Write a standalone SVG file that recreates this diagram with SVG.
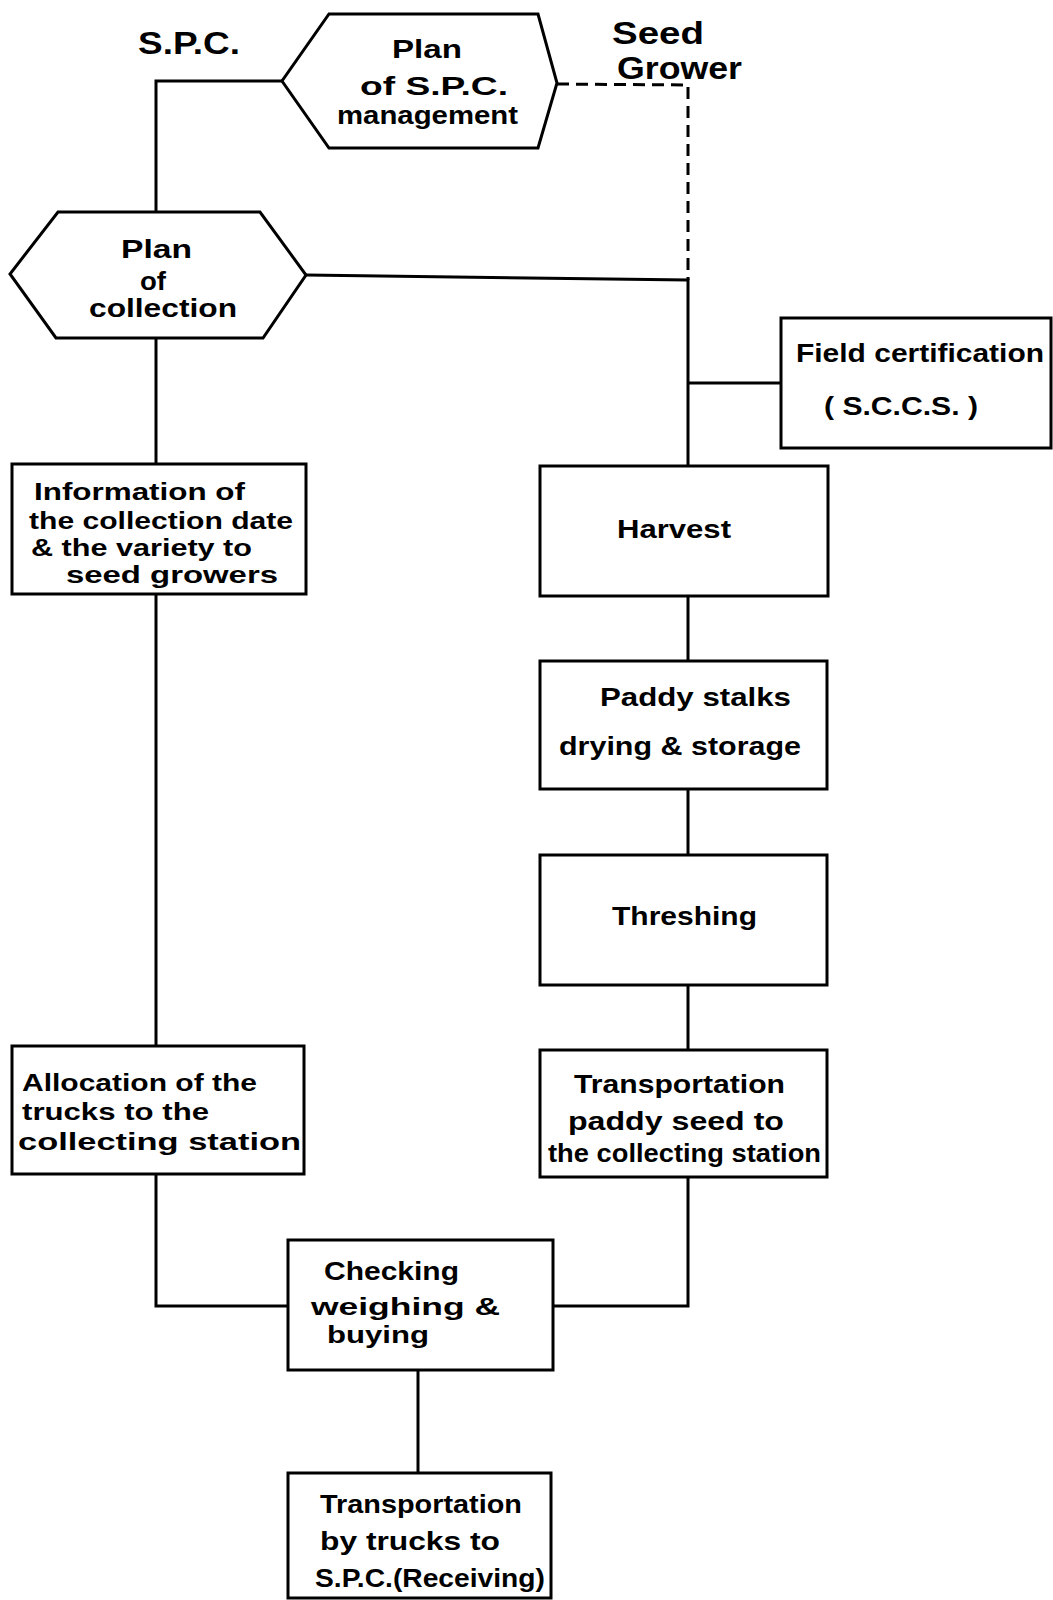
<svg xmlns="http://www.w3.org/2000/svg" width="1053" height="1600" viewBox="0 0 1053 1600">
<style>
.n{fill:#fff;stroke:#000;stroke-width:3;stroke-linejoin:miter}
.c{fill:none;stroke:#000;stroke-width:3}
.d{fill:none;stroke:#000;stroke-width:3;stroke-dasharray:12 7}
text{font-family:"Liberation Sans",Arial,sans-serif;font-weight:bold;font-size:26px;fill:#000}
.h{font-size:31px}
.s{font-size:23px}
</style>
<rect width="1053" height="1600" fill="#fff"/>
<g id="connectors">
<polyline class="c" points="282,81 156,81 156,212"/>
<polyline class="d" points="557,84 688,85 688,280"/>
<polyline class="c" points="306,275 688,280 688,466"/>
<line class="c" x1="688" y1="383" x2="781" y2="383"/>
<line class="c" x1="156" y1="338" x2="156" y2="464"/>
<line class="c" x1="156" y1="594" x2="156" y2="1046"/>
<line class="c" x1="688" y1="596" x2="688" y2="661"/>
<line class="c" x1="688" y1="789" x2="688" y2="855"/>
<line class="c" x1="688" y1="985" x2="688" y2="1050"/>
<polyline class="c" points="156,1174 156,1306 288,1306"/>
<polyline class="c" points="688,1177 688,1306 553,1306"/>
<line class="c" x1="418" y1="1370" x2="418" y2="1473"/>
</g>
<g id="label-spc"><text class="h" x="138" y="54" textLength="102" lengthAdjust="spacingAndGlyphs">S.P.C.</text></g>
<g id="label-seed-grower">
<text class="h" x="612" y="44" textLength="92" lengthAdjust="spacingAndGlyphs">Seed</text>
<text class="h" x="617" y="79" textLength="125" lengthAdjust="spacingAndGlyphs">Grower</text>
</g>
<g id="plan-spc-management">
<polygon class="n" points="329,14 538,14 557,83 538,148 329,148 282,81"/>
<text x="392" y="58" textLength="70" lengthAdjust="spacingAndGlyphs">Plan</text>
<text x="360" y="95" textLength="148" lengthAdjust="spacingAndGlyphs">of S.P.C.</text>
<text x="337" y="124" textLength="181" lengthAdjust="spacingAndGlyphs">management</text>
</g>
<g id="plan-collection">
<polygon class="n" points="58,212 260,212 306,275 263,338 56,338 10,274"/>
<text x="121" y="258" textLength="71" lengthAdjust="spacingAndGlyphs">Plan</text>
<text x="140" y="290" textLength="26" lengthAdjust="spacingAndGlyphs">of</text>
<text x="89" y="317" textLength="148" lengthAdjust="spacingAndGlyphs">collection</text>
</g>
<g id="field-certification">
<rect class="n" x="781" y="318" width="270" height="130"/>
<text x="796" y="362" textLength="248" lengthAdjust="spacingAndGlyphs">Field certification</text>
<text x="824" y="415" textLength="154" lengthAdjust="spacingAndGlyphs">( S.C.C.S. )</text>
</g>
<g id="information">
<rect class="n" x="12" y="464" width="294" height="130"/>
<text class="s" x="34" y="500" textLength="211" lengthAdjust="spacingAndGlyphs">Information of</text>
<text class="s" x="29" y="529" textLength="264" lengthAdjust="spacingAndGlyphs">the collection date</text>
<text class="s" x="31" y="556" textLength="221" lengthAdjust="spacingAndGlyphs">&amp; the variety to</text>
<text class="s" x="66" y="583" textLength="212" lengthAdjust="spacingAndGlyphs">seed growers</text>
</g>
<g id="harvest">
<rect class="n" x="540" y="466" width="288" height="130"/>
<text x="617" y="538" textLength="114" lengthAdjust="spacingAndGlyphs">Harvest</text>
</g>
<g id="paddy-stalks">
<rect class="n" x="540" y="661" width="287" height="128"/>
<text x="600" y="706" textLength="191" lengthAdjust="spacingAndGlyphs">Paddy stalks</text>
<text x="559" y="755" textLength="242" lengthAdjust="spacingAndGlyphs">drying &amp; storage</text>
</g>
<g id="threshing">
<rect class="n" x="540" y="855" width="287" height="130"/>
<text x="612" y="925" textLength="145" lengthAdjust="spacingAndGlyphs">Threshing</text>
</g>
<g id="transportation-paddy">
<rect class="n" x="540" y="1050" width="287" height="127"/>
<text x="574" y="1093" textLength="211" lengthAdjust="spacingAndGlyphs">Transportation</text>
<text x="568" y="1130" textLength="216" lengthAdjust="spacingAndGlyphs">paddy seed to</text>
<text x="548" y="1162" textLength="273" lengthAdjust="spacingAndGlyphs">the collecting station</text>
</g>
<g id="allocation">
<rect class="n" x="12" y="1046" width="292" height="128"/>
<text class="s" x="22" y="1091" textLength="235" lengthAdjust="spacingAndGlyphs">Allocation of the</text>
<text class="s" x="22" y="1120" textLength="187" lengthAdjust="spacingAndGlyphs">trucks to the</text>
<text class="s" x="18" y="1150" textLength="283" lengthAdjust="spacingAndGlyphs">collecting station</text>
</g>
<g id="checking">
<rect class="n" x="288" y="1240" width="265" height="130"/>
<text x="324" y="1280" textLength="135" lengthAdjust="spacingAndGlyphs">Checking</text>
<text class="s" x="311" y="1315" textLength="189" lengthAdjust="spacingAndGlyphs">weighing  &amp;</text>
<text class="s" x="327" y="1343" textLength="102" lengthAdjust="spacingAndGlyphs">buying</text>
</g>
<g id="transportation-trucks">
<rect class="n" x="288" y="1473" width="263" height="125"/>
<text x="320" y="1513" textLength="202" lengthAdjust="spacingAndGlyphs">Transportation</text>
<text x="320" y="1550" textLength="180" lengthAdjust="spacingAndGlyphs">by trucks to</text>
<text x="315" y="1587" textLength="230" lengthAdjust="spacingAndGlyphs">S.P.C.(Receiving)</text>
</g>
</svg>
